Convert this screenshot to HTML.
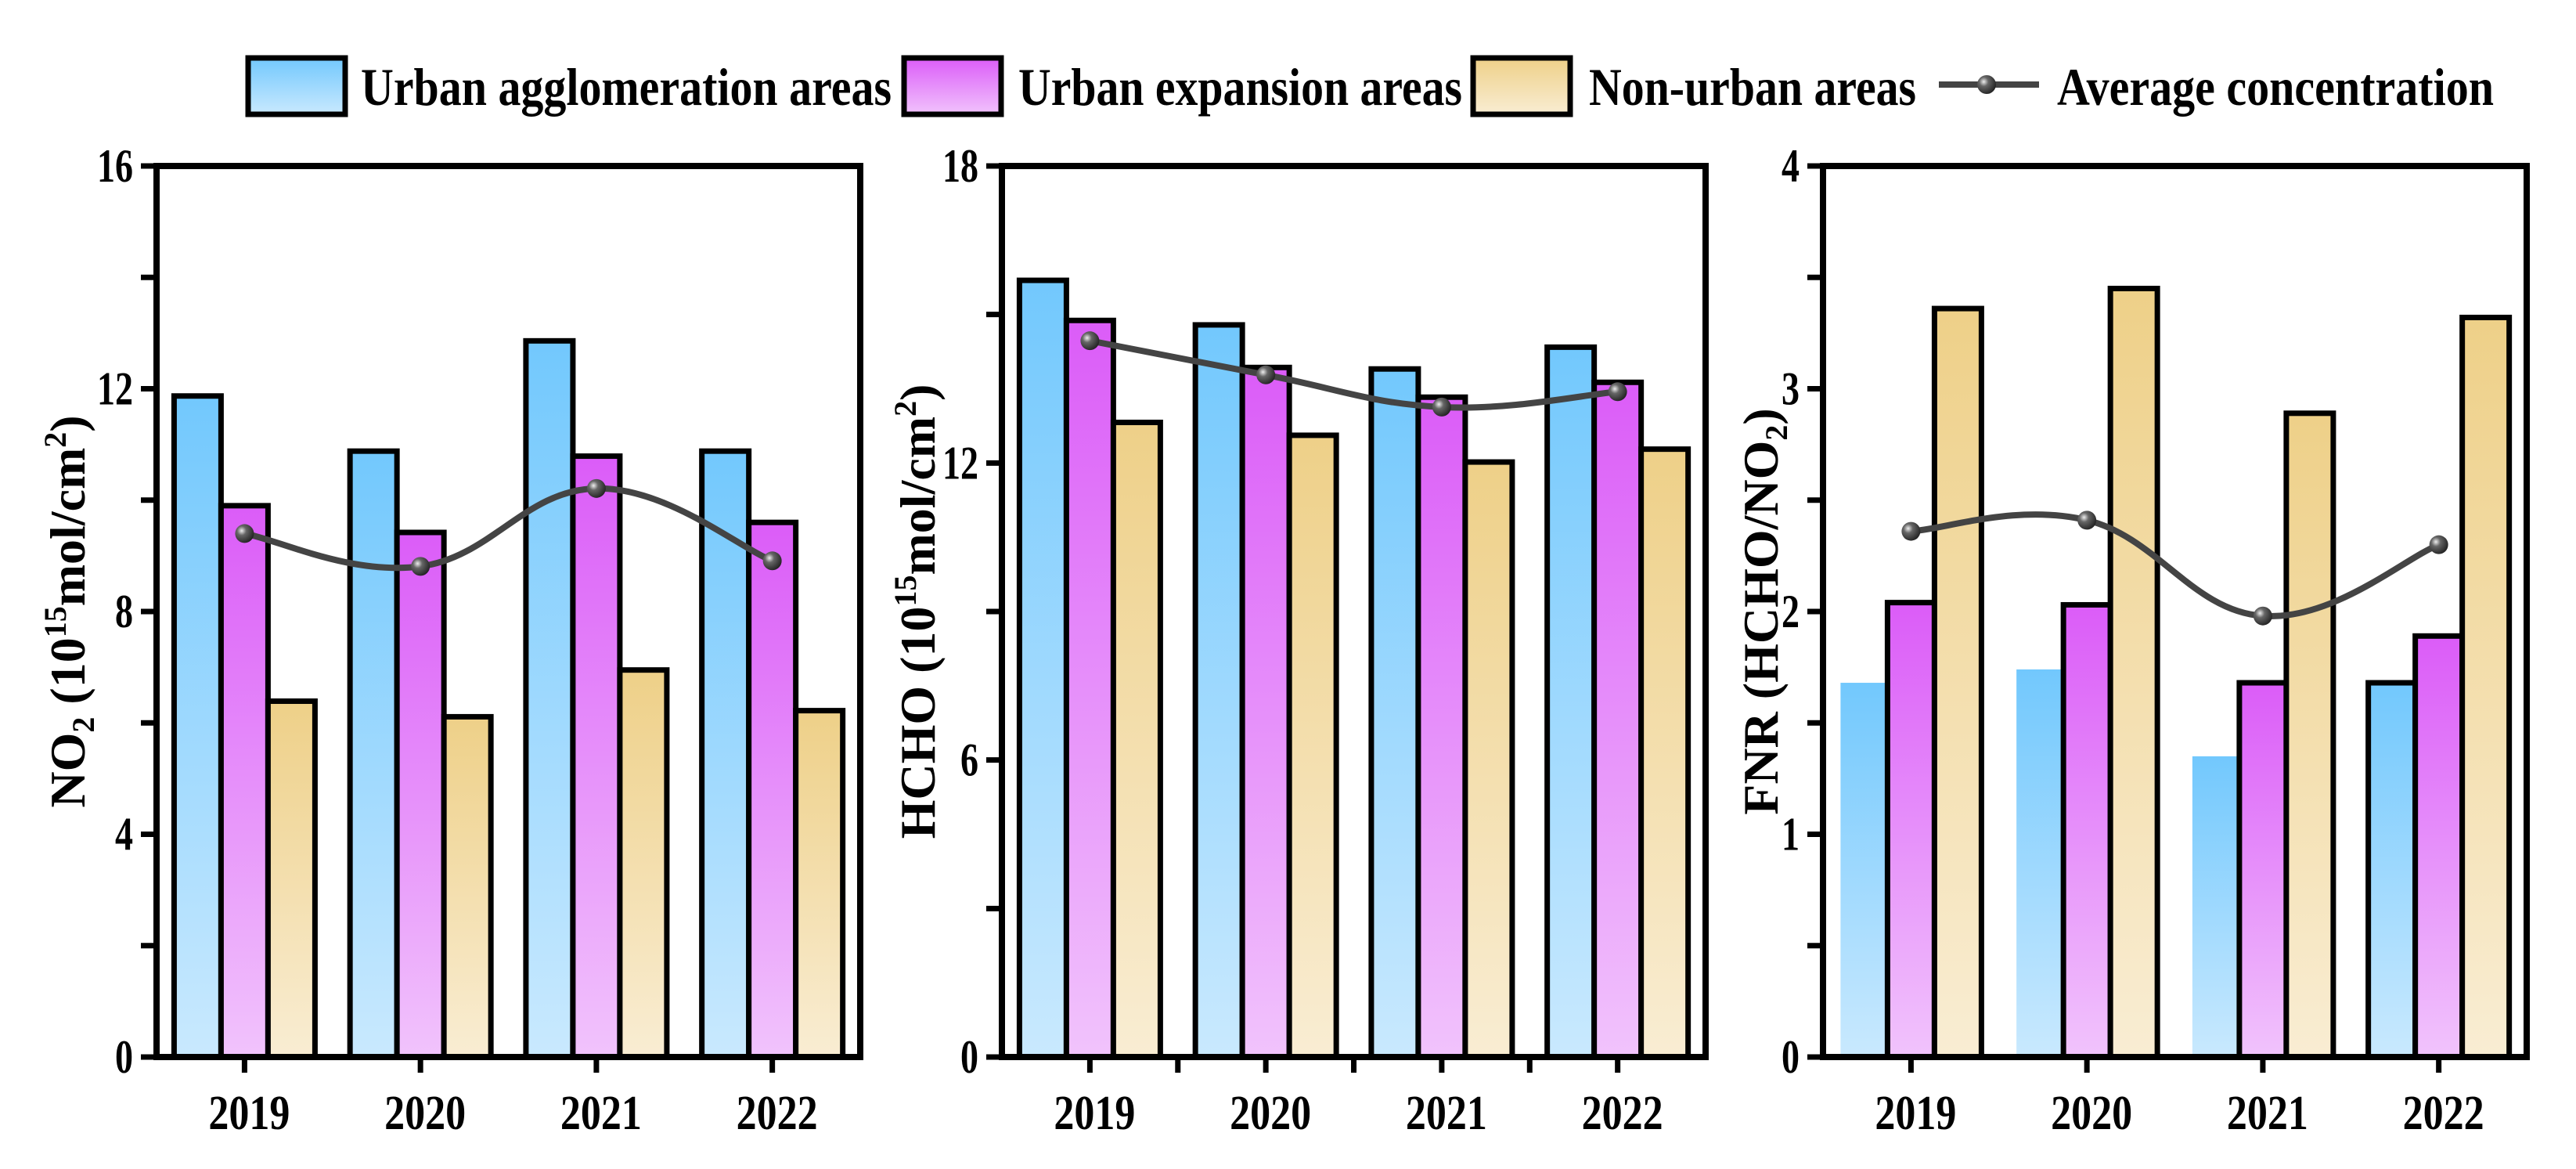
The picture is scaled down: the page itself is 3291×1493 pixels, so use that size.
<!DOCTYPE html>
<html><head><meta charset="utf-8"><style>
html,body{margin:0;padding:0;background:#fff}
svg{display:block;font-family:"Liberation Serif",serif;font-weight:bold}
</style></head><body>
<svg id="c" width="3291" height="1493" viewBox="0 0 3291 1493" xmlns="http://www.w3.org/2000/svg">
<defs>
<linearGradient id="gB" x1="0" y1="0" x2="0" y2="1"><stop offset="0" stop-color="#72c8fd"/><stop offset="1" stop-color="#c9e9fe"/></linearGradient>
<linearGradient id="gP" x1="0" y1="0" x2="0" y2="1"><stop offset="0" stop-color="#db5cf8"/><stop offset="1" stop-color="#f1c3fc"/></linearGradient>
<linearGradient id="gY" x1="0" y1="0" x2="0" y2="1"><stop offset="0" stop-color="#eed088"/><stop offset="1" stop-color="#f9edd3"/></linearGradient>
<radialGradient id="gM" cx="0.35" cy="0.35" r="0.7"><stop offset="0" stop-color="#eee"/><stop offset="0.35" stop-color="#666"/><stop offset="1" stop-color="#222"/></radialGradient>
</defs>
<g id="legend">
<rect x="317" y="74" width="124" height="72" fill="url(#gB)" stroke="#000" stroke-width="7"/>
<text x="461" y="134" font-size="68" textLength="678" lengthAdjust="spacingAndGlyphs">Urban agglomeration areas</text>
<rect x="1155" y="74" width="124" height="72" fill="url(#gP)" stroke="#000" stroke-width="7"/>
<text x="1301" y="134" font-size="68" textLength="567" lengthAdjust="spacingAndGlyphs">Urban expansion areas</text>
<rect x="1882" y="74" width="124" height="72" fill="url(#gY)" stroke="#000" stroke-width="7"/>
<text x="2030" y="134" font-size="68" textLength="418" lengthAdjust="spacingAndGlyphs">Non-urban areas</text>
<line x1="2477" y1="108" x2="2605" y2="108" stroke="#444" stroke-width="8"/>
<circle cx="2538" cy="108" r="12" fill="url(#gM)"/>
<text x="2628" y="134" font-size="68" textLength="558" lengthAdjust="spacingAndGlyphs">Average concentration</text>
</g>
</svg>
<script>
const years = ["2019","2020","2021","2022"];
const no2Urban = [11.87, 10.88, 12.86, 10.88];
const no2Expansion = [9.90, 9.42, 10.79, 9.60];
const no2NonUrban = [6.39, 6.11, 6.95, 6.22];
const no2Average = [9.40, 8.81, 10.21, 8.91];
const no2Ticks = [0, 4, 8, 12, 16];
const hchoUrban = [15.69, 14.79, 13.90, 14.34];
const hchoExpansion = [14.88, 13.93, 13.33, 13.63];
const hchoNonUrban = [12.82, 12.56, 12.02, 12.28];
const hchoAverage = [14.47, 13.78, 13.13, 13.44];
const hchoTicks = [0, 6, 12, 18];
const fnrUrban = [1.68, 1.74, 1.35, 1.68];
const fnrExpansion = [2.04, 2.03, 1.68, 1.89];
const fnrNonUrban = [3.36, 3.45, 2.89, 3.32];
const fnrAverage = [2.36, 2.41, 1.98, 2.30];
const fnrTicks = [0, 1, 2, 3, 4];

const NS = "http://www.w3.org/2000/svg";
const svg = document.getElementById('c');
function mk(tag, attrs, parent) {
  const e = document.createElementNS(NS, tag);
  for (const k in attrs) e.setAttribute(k, attrs[k]);
  (parent || svg).appendChild(e);
  return e;
}
function panel(key, left, yMax, minorStep, ticks, ser, avg, titleX, titleParts, midTicks, noOutline) {
  const top = 212, bottom = 1350;
  const g = mk('g', {});
  
  
  const xs = i => left + 112.4 + 224.75 * i;
  const ys = v => bottom - (v / yMax) * (bottom - top);
  const bw = 60;
  const fills = ['url(#gB)', 'url(#gP)', 'url(#gY)'];
  const names = ['urban-agglomeration', 'urban-expansion', 'non-urban'];
  ser.forEach((arr, s) => {
    arr.forEach((v, i) => {
      const cx = xs(i) + (s - 1) * bw;
      const plain = noOutline && s === 0 && i < 3;
      const r = mk('rect', {x: cx - bw / 2, y: ys(v), width: bw, height: bottom - ys(v), fill: fills[s], stroke: plain ? 'none' : '#000', 'stroke-width': 7}, g);
      
      
    });
  });
  const pts = avg.map((v, i) => [xs(i), ys(v)]);
  let d = 'M' + pts[0][0] + ',' + pts[0][1];
  for (let i = 0; i < pts.length - 1; i++) {
    const p0 = pts[Math.max(0, i - 1)], p1 = pts[i], p2 = pts[i + 1], p3 = pts[Math.min(pts.length - 1, i + 2)];
    const c1 = [p1[0] + (p2[0] - p0[0]) / 5, p1[1] + (p2[1] - p0[1]) / 5];
    const c2 = [p2[0] - (p3[0] - p1[0]) / 5, p2[1] - (p3[1] - p1[1]) / 5];
    d += ' C' + c1 + ' ' + c2 + ' ' + p2;
  }
  const ln = mk('path', {d: d, fill: 'none', stroke: '#444', 'stroke-width': 8}, g);
  
  
  pts.forEach((p, i) => {
    const c = mk('circle', {cx: p[0], cy: p[1], r: 12, fill: 'url(#gM)'}, g);
    
    
  });
  const fr = mk('rect', {x: left, y: top, width: 899, height: bottom - top, fill: 'none', stroke: '#000', 'stroke-width': 8}, g);
  
  
  for (let v = 0; v <= yMax + 1e-9; v += minorStep) {
    const t = mk('line', {x1: left - 20, x2: left, y1: ys(v), y2: ys(v), stroke: '#000', 'stroke-width': 7}, g);
    
    
  }
  ticks.forEach(v => {
    const s = String(v);
    const t = mk('text', {x: left - 30, y: ys(v) + 20, 'font-size': 60, 'text-anchor': 'end', textLength: 23 * s.length, lengthAdjust: 'spacingAndGlyphs'}, g);
    t.textContent = s;
    
    
  });
  years.forEach((y, i) => {
    const t = mk('line', {x1: xs(i), x2: xs(i), y1: bottom, y2: bottom + 20, stroke: '#000', 'stroke-width': 7}, g);
    
    
    const l = mk('text', {x: xs(i) + 6, y: bottom + 92, 'font-size': 62, 'text-anchor': 'middle', textLength: 104, lengthAdjust: 'spacingAndGlyphs'}, g);
    l.textContent = y;
    
    
    if (midTicks && i < 3) {
      const m = mk('line', {x1: xs(i + 0.5), x2: xs(i + 0.5), y1: bottom, y2: bottom + 20, stroke: '#000', 'stroke-width': 7}, g);
      
      
    }
  });
  const cy = (top + bottom) / 2;
  const tt = mk('text', {x: titleX, y: cy, 'font-size': 64, 'text-anchor': 'middle', transform: 'rotate(-90 ' + titleX + ' ' + cy + ')', dy: 22}, g);
  
  
  titleParts.forEach(p => {
    const s = mk('tspan', {}, tt);
    if (p[1] === 'sup') { s.setAttribute('font-size', 40); s.setAttribute('dy', -24); }
    else if (p[1] === 'sub') { s.setAttribute('font-size', 40); s.setAttribute('dy', 12); }
    else if (p[1] === 'upfromsup') { s.setAttribute('dy', 24); }
    else if (p[1] === 'upfromsub') { s.setAttribute('dy', -12); }
    s.textContent = p[0];
  });
}
panel('no2', 200, 16, 2, no2Ticks, [no2Urban, no2Expansion, no2NonUrban], no2Average, 86,
  [['NO', ''], ['2', 'sub'], [' (10', 'upfromsub'], ['15', 'sup'], ['mol/cm', 'upfromsup'], ['2', 'sup'], [')', 'upfromsup']], false, false);
panel('hcho', 1280, 18, 3, hchoTicks, [hchoUrban, hchoExpansion, hchoNonUrban], hchoAverage, 1172,
  [['HCHO (10', ''], ['15', 'sup'], ['mol/cm', 'upfromsup'], ['2', 'sup'], [')', 'upfromsup']], true, false);
panel('fnr', 2329, 4, 0.5, fnrTicks, [fnrUrban, fnrExpansion, fnrNonUrban], fnrAverage, 2249,
  [['FNR (HCHO/NO', ''], ['2', 'sub'], [')', 'upfromsub']], false, true);
</script>
</body></html>
